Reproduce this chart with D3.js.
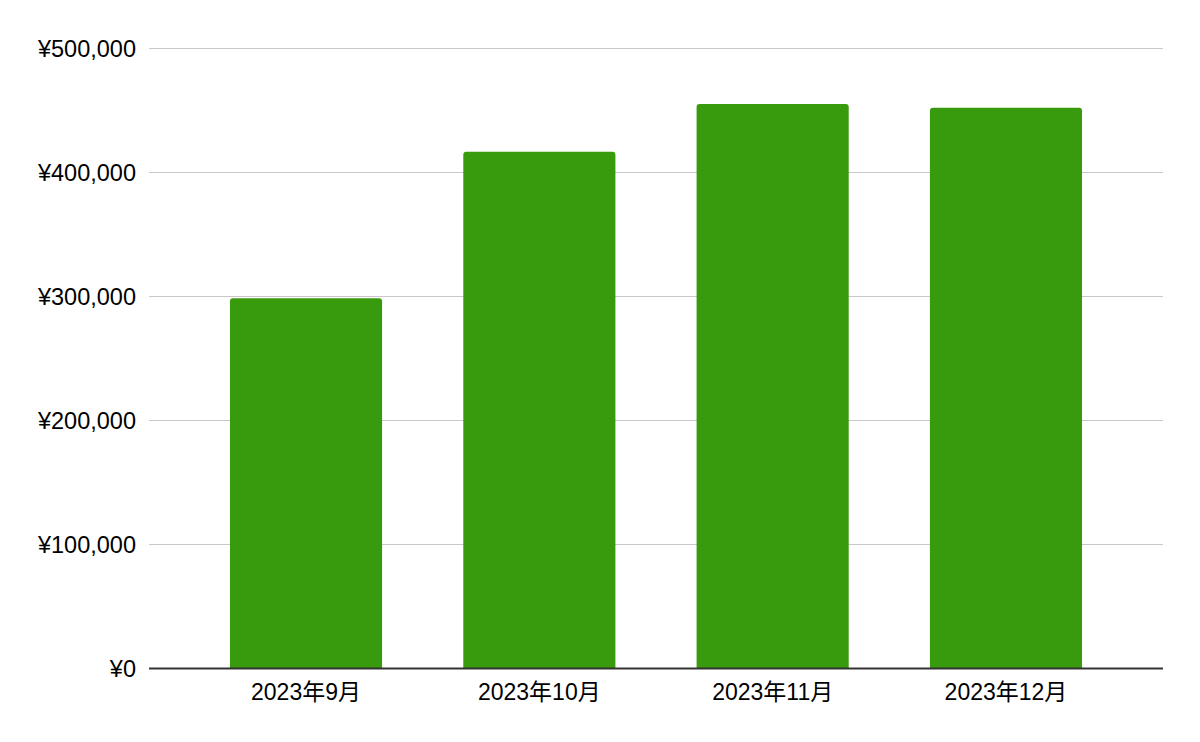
<!DOCTYPE html>
<html><head><meta charset="utf-8">
<script src="https://cdn.jsdelivr.net/npm/d3@7"></script>
<style>
body{margin:0;background:#fff;}
text{font-family:"Liberation Sans",Arial,"Noto Sans CJK JP",sans-serif;fill:#000;}
</style></head>
<body><svg id="c" width="1200" height="742"></svg>
<script>
const categories = ["2023年9月","2023年10月","2023年11月","2023年12月"];
const values = [298500, 416800, 455200, 452300];
const yTicks = [0,100000,200000,300000,400000,500000];

(function(){
const svg = d3.select("#c");
const pL = 149, pR = 1163, pT = 48.5, pB = 668.5;
const x = d3.scaleBand().domain(categories).range([pL,pR]).paddingInner(0.348).paddingOuter(0.347);
const y = d3.scaleLinear().domain([0,500000]).range([pB,pT]);
const fmt = v => "¥" + d3.format(",")(v);

svg.append("g").selectAll("line").data(yTicks.filter(d=>d>0)).join("line")
  .attr("x1",pL).attr("x2",pR)
  .attr("y1",d=>y(d)).attr("y2",d=>y(d))
  .attr("stroke","#c8c8c8").attr("stroke-width",1);

svg.append("g").selectAll("text").data(yTicks).join("text")
  .attr("x",136).attr("y",d=>y(d)).attr("dy","0.35em")
  .attr("text-anchor","end").style("font-size","23.5px")
  .text(fmt);

const r = 3;
svg.append("g").selectAll("path").data(values).join("path")
  .attr("fill","#389b0d")
  .attr("d",(d,i)=>{
    const x0 = x(categories[i]), w = x.bandwidth(), y0 = y(d), yb = y(0);
    return `M${x0},${yb}V${y0+r}Q${x0},${y0} ${x0+r},${y0}H${x0+w-r}Q${x0+w},${y0} ${x0+w},${y0+r}V${yb}Z`;
  });

svg.append("line").attr("x1",pL).attr("x2",pR)
  .attr("y1",y(0)).attr("y2",y(0))
  .attr("stroke","#333333").attr("stroke-width",2);

svg.append("g").selectAll("text").data(categories).join("text")
  .attr("x",d=>x(d)+x.bandwidth()/2).attr("y",692).attr("dy","0.35em")
  .attr("text-anchor","middle").style("font-size","23px")
  .text(d=>d);
})();
</script></body></html>
